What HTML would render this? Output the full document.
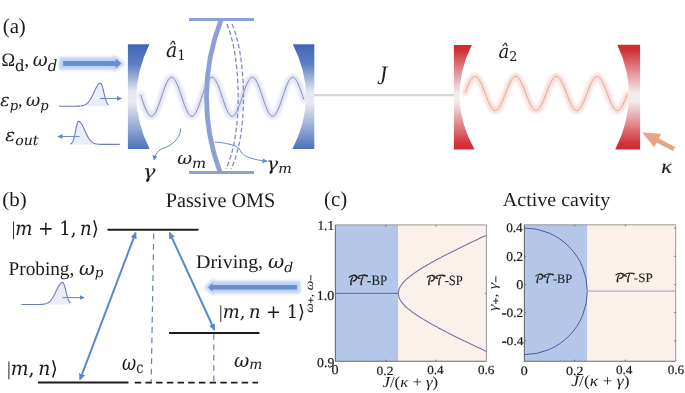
<!DOCTYPE html>
<html><head><meta charset="utf-8"><title>PT-symmetric optomechanics figure</title>
<style>html,body{margin:0;padding:0;background:#fff;}body{width:685px;height:393px;overflow:hidden;}svg{display:block;}</style>
</head><body>
<svg width="685" height="393" viewBox="0 0 685 393" text-rendering="geometricPrecision">
<defs>
<linearGradient id="gb" x1="0" y1="0" x2="0" y2="1">
 <stop offset="0" stop-color="#4065b4"/><stop offset="0.2" stop-color="#5f80c4"/>
 <stop offset="0.45" stop-color="#e4e7f0"/><stop offset="0.55" stop-color="#ebebf0"/><stop offset="0.8" stop-color="#93a8d6"/><stop offset="1" stop-color="#4d71ba"/>
</linearGradient>
<linearGradient id="gr" x1="0" y1="0" x2="0" y2="1">
 <stop offset="0" stop-color="#d02a2e"/><stop offset="0.06" stop-color="#d3333a"/>
 <stop offset="0.46" stop-color="#f2eded"/><stop offset="0.54" stop-color="#f2eded"/><stop offset="0.94" stop-color="#d3333a"/><stop offset="1" stop-color="#d02a2e"/>
</linearGradient>
<filter id="blur2" x="-20%" y="-50%" width="140%" height="200%"><feGaussianBlur stdDeviation="1.6"/></filter>
<filter id="blur1" x="-20%" y="-50%" width="140%" height="200%"><feGaussianBlur stdDeviation="1.1"/></filter>
<marker id="ah" viewBox="0 0 10 10" refX="9" refY="5" markerWidth="6.5" markerHeight="6.5" orient="auto-start-reverse" markerUnits="userSpaceOnUse"><path d="M0,0 L10,5 L0,10 z" fill="#5b87cc"/></marker>
<marker id="ahs" viewBox="0 0 10 10" refX="9" refY="5" markerWidth="5" markerHeight="5" orient="auto-start-reverse" markerUnits="userSpaceOnUse"><path d="M0,0 L10,5 L0,10 z" fill="#5b87cc"/></marker>
</defs>
<rect width="685" height="393" fill="#fff"/>
<line x1="313" y1="95.2" x2="455" y2="95.2" stroke="#d6d6d6" stroke-width="2.2"/>
<path d="M140.70,94.99 L141.20,96.50 L141.70,98.01 L142.20,99.51 L142.70,100.99 L143.20,102.45 L143.70,103.87 L144.20,105.26 L144.70,106.59 L145.20,107.86 L145.70,109.06 L146.20,110.19 L146.70,111.24 L147.20,112.21 L147.70,113.08 L148.20,113.85 L148.70,114.51 L149.20,115.08 L149.70,115.53 L150.20,115.86 L150.70,116.09 L151.20,116.19 L151.70,116.18 L152.20,116.05 L152.70,115.80 L153.20,115.44 L153.70,114.97 L154.20,114.39 L154.70,113.70 L155.20,112.91 L155.70,112.02 L156.20,111.04 L156.70,109.97 L157.20,108.83 L157.70,107.61 L158.20,106.33 L158.70,104.98 L159.20,103.59 L159.70,102.16 L160.20,100.70 L160.70,99.21 L161.20,97.70 L161.70,96.20 L162.20,94.69 L162.70,93.20 L163.20,91.73 L163.70,90.29 L164.20,88.89 L164.70,87.54 L165.20,86.24 L165.70,85.01 L166.20,83.85 L166.70,82.77 L167.20,81.77 L167.70,80.86 L168.20,80.05 L168.70,79.34 L169.20,78.74 L169.70,78.24 L170.20,77.86 L170.70,77.59 L171.20,77.44 L171.70,77.40 L172.20,77.48 L172.70,77.68 L173.20,78.00 L173.70,78.43 L174.20,78.96 L174.70,79.61 L175.20,80.36 L175.70,81.21 L176.20,82.16 L176.70,83.19 L177.20,84.30 L177.70,85.49 L178.20,86.75 L178.70,88.07 L179.20,89.45 L179.70,90.86 L180.20,92.32 L180.70,93.79 L181.20,95.29 L181.70,96.80 L182.20,98.31 L182.70,99.81 L183.20,101.28 L183.70,102.74 L184.20,104.15 L184.70,105.53 L185.20,106.85 L185.70,108.11 L186.20,109.30 L186.70,110.41 L187.20,111.44 L187.70,112.39 L188.20,113.24 L188.70,113.99 L189.20,114.64 L189.70,115.17 L190.20,115.60 L190.70,115.92 L191.20,116.12 L191.70,116.20 L192.20,116.16 L192.70,116.01 L193.20,115.74 L193.70,115.36 L194.20,114.86 L194.70,114.26 L195.20,113.55 L195.70,112.74 L196.20,111.83 L196.70,110.83 L197.20,109.75 L197.70,108.59 L198.20,107.36 L198.70,106.06 L199.20,104.71 L199.70,103.31 L200.20,101.87 L200.70,100.40 L201.20,98.91 L201.70,97.40 L202.20,95.90 L202.70,94.39 L203.20,92.90 L203.70,91.44 L204.20,90.01 L204.70,88.62 L205.20,87.27 L205.70,85.99 L206.20,84.77 L206.70,83.63 L207.20,82.56 L207.70,81.58 L208.20,80.69 L208.70,79.90 L209.20,79.21 L209.70,78.63 L210.20,78.16 L210.70,77.80 L211.20,77.55 L211.70,77.42 L212.20,77.41 L212.70,77.51 L213.20,77.74 L213.70,78.07 L214.20,78.52 L214.70,79.09 L215.20,79.75 L215.70,80.52 L216.20,81.39 L216.70,82.36 L217.20,83.41 L217.70,84.54 L218.20,85.74 L218.70,87.01 L219.20,88.34 L219.70,89.73 L220.20,91.15 L220.70,92.61 L221.20,94.09 L221.70,95.59 L222.20,97.10 L222.70,98.61 L223.20,100.10 L223.70,101.58 L224.20,103.02 L224.70,104.43 L225.20,105.80 L225.70,107.10 L226.20,108.35 L226.70,109.53 L227.20,110.62 L227.70,111.64 L228.20,112.57 L228.70,113.40 L229.20,114.13 L229.70,114.75 L230.20,115.27 L230.70,115.67 L231.20,115.97 L231.70,116.14 L232.20,116.20 L232.70,116.14 L233.20,115.97 L233.70,115.67 L234.20,115.27 L234.70,114.75 L235.20,114.13 L235.70,113.40 L236.20,112.57 L236.70,111.64 L237.20,110.62 L237.70,109.53 L238.20,108.35 L238.70,107.10 L239.20,105.80 L239.70,104.43 L240.20,103.02 L240.70,101.58 L241.20,100.10 L241.70,98.61 L242.20,97.10 L242.70,95.59 L243.20,94.09 L243.70,92.61 L244.20,91.15 L244.70,89.73 L245.20,88.34 L245.70,87.01 L246.20,85.74 L246.70,84.54 L247.20,83.41 L247.70,82.36 L248.20,81.39 L248.70,80.52 L249.20,79.75 L249.70,79.09 L250.20,78.52 L250.70,78.07 L251.20,77.74 L251.70,77.51 L252.20,77.41 L252.70,77.42 L253.20,77.55 L253.70,77.80 L254.20,78.16 L254.70,78.63 L255.20,79.21 L255.70,79.90 L256.20,80.69 L256.70,81.58 L257.20,82.56 L257.70,83.63 L258.20,84.77 L258.70,85.99 L259.20,87.27 L259.70,88.62 L260.20,90.01 L260.70,91.44 L261.20,92.90 L261.70,94.39 L262.20,95.90 L262.70,97.40 L263.20,98.91 L263.70,100.40 L264.20,101.87 L264.70,103.31 L265.20,104.71 L265.70,106.06 L266.20,107.36 L266.70,108.59 L267.20,109.75 L267.70,110.83 L268.20,111.83 L268.70,112.74 L269.20,113.55 L269.70,114.26 L270.20,114.86 L270.70,115.36 L271.20,115.74 L271.70,116.01 L272.20,116.16 L272.70,116.20 L273.20,116.12 L273.70,115.92 L274.20,115.60 L274.70,115.17 L275.20,114.64 L275.70,113.99 L276.20,113.24 L276.70,112.39 L277.20,111.44 L277.70,110.41 L278.20,109.30 L278.70,108.11 L279.20,106.85 L279.70,105.53 L280.20,104.15 L280.70,102.74 L281.20,101.28 L281.70,99.81 L282.20,98.31 L282.70,96.80 L283.20,95.29 L283.70,93.79 L284.20,92.32 L284.70,90.86 L285.20,89.45 L285.70,88.07 L286.20,86.75 L286.70,85.49 L287.20,84.30 L287.70,83.19 L288.20,82.16 L288.70,81.21 L289.20,80.36 L289.70,79.61 L290.20,78.96 L290.70,78.43 L291.20,78.00 L291.70,77.68 L292.20,77.48 L292.70,77.40 L293.20,77.44 L293.70,77.59 L294.20,77.86 L294.70,78.24 L295.20,78.74 L295.70,79.34 L296.20,80.05 L296.70,80.86 L297.20,81.77 L297.70,82.77 L298.20,83.85 L298.70,85.01 L299.20,86.24 L299.70,87.54 L300.20,88.89 L300.70,90.29 L301.20,91.73 L301.70,93.20 L302.20,94.69 L302.70,96.20 L303.20,97.70 L303.70,99.21" fill="none" stroke="#e2e6f6" stroke-width="7" stroke-linecap="round" filter="url(#blur1)"/>
<path d="M140.70,94.99 L141.20,96.50 L141.70,98.01 L142.20,99.51 L142.70,100.99 L143.20,102.45 L143.70,103.87 L144.20,105.26 L144.70,106.59 L145.20,107.86 L145.70,109.06 L146.20,110.19 L146.70,111.24 L147.20,112.21 L147.70,113.08 L148.20,113.85 L148.70,114.51 L149.20,115.08 L149.70,115.53 L150.20,115.86 L150.70,116.09 L151.20,116.19 L151.70,116.18 L152.20,116.05 L152.70,115.80 L153.20,115.44 L153.70,114.97 L154.20,114.39 L154.70,113.70 L155.20,112.91 L155.70,112.02 L156.20,111.04 L156.70,109.97 L157.20,108.83 L157.70,107.61 L158.20,106.33 L158.70,104.98 L159.20,103.59 L159.70,102.16 L160.20,100.70 L160.70,99.21 L161.20,97.70 L161.70,96.20 L162.20,94.69 L162.70,93.20 L163.20,91.73 L163.70,90.29 L164.20,88.89 L164.70,87.54 L165.20,86.24 L165.70,85.01 L166.20,83.85 L166.70,82.77 L167.20,81.77 L167.70,80.86 L168.20,80.05 L168.70,79.34 L169.20,78.74 L169.70,78.24 L170.20,77.86 L170.70,77.59 L171.20,77.44 L171.70,77.40 L172.20,77.48 L172.70,77.68 L173.20,78.00 L173.70,78.43 L174.20,78.96 L174.70,79.61 L175.20,80.36 L175.70,81.21 L176.20,82.16 L176.70,83.19 L177.20,84.30 L177.70,85.49 L178.20,86.75 L178.70,88.07 L179.20,89.45 L179.70,90.86 L180.20,92.32 L180.70,93.79 L181.20,95.29 L181.70,96.80 L182.20,98.31 L182.70,99.81 L183.20,101.28 L183.70,102.74 L184.20,104.15 L184.70,105.53 L185.20,106.85 L185.70,108.11 L186.20,109.30 L186.70,110.41 L187.20,111.44 L187.70,112.39 L188.20,113.24 L188.70,113.99 L189.20,114.64 L189.70,115.17 L190.20,115.60 L190.70,115.92 L191.20,116.12 L191.70,116.20 L192.20,116.16 L192.70,116.01 L193.20,115.74 L193.70,115.36 L194.20,114.86 L194.70,114.26 L195.20,113.55 L195.70,112.74 L196.20,111.83 L196.70,110.83 L197.20,109.75 L197.70,108.59 L198.20,107.36 L198.70,106.06 L199.20,104.71 L199.70,103.31 L200.20,101.87 L200.70,100.40 L201.20,98.91 L201.70,97.40 L202.20,95.90 L202.70,94.39 L203.20,92.90 L203.70,91.44 L204.20,90.01 L204.70,88.62 L205.20,87.27 L205.70,85.99 L206.20,84.77 L206.70,83.63 L207.20,82.56 L207.70,81.58 L208.20,80.69 L208.70,79.90 L209.20,79.21 L209.70,78.63 L210.20,78.16 L210.70,77.80 L211.20,77.55 L211.70,77.42 L212.20,77.41 L212.70,77.51 L213.20,77.74 L213.70,78.07 L214.20,78.52 L214.70,79.09 L215.20,79.75 L215.70,80.52 L216.20,81.39 L216.70,82.36 L217.20,83.41 L217.70,84.54 L218.20,85.74 L218.70,87.01 L219.20,88.34 L219.70,89.73 L220.20,91.15 L220.70,92.61 L221.20,94.09 L221.70,95.59 L222.20,97.10 L222.70,98.61 L223.20,100.10 L223.70,101.58 L224.20,103.02 L224.70,104.43 L225.20,105.80 L225.70,107.10 L226.20,108.35 L226.70,109.53 L227.20,110.62 L227.70,111.64 L228.20,112.57 L228.70,113.40 L229.20,114.13 L229.70,114.75 L230.20,115.27 L230.70,115.67 L231.20,115.97 L231.70,116.14 L232.20,116.20 L232.70,116.14 L233.20,115.97 L233.70,115.67 L234.20,115.27 L234.70,114.75 L235.20,114.13 L235.70,113.40 L236.20,112.57 L236.70,111.64 L237.20,110.62 L237.70,109.53 L238.20,108.35 L238.70,107.10 L239.20,105.80 L239.70,104.43 L240.20,103.02 L240.70,101.58 L241.20,100.10 L241.70,98.61 L242.20,97.10 L242.70,95.59 L243.20,94.09 L243.70,92.61 L244.20,91.15 L244.70,89.73 L245.20,88.34 L245.70,87.01 L246.20,85.74 L246.70,84.54 L247.20,83.41 L247.70,82.36 L248.20,81.39 L248.70,80.52 L249.20,79.75 L249.70,79.09 L250.20,78.52 L250.70,78.07 L251.20,77.74 L251.70,77.51 L252.20,77.41 L252.70,77.42 L253.20,77.55 L253.70,77.80 L254.20,78.16 L254.70,78.63 L255.20,79.21 L255.70,79.90 L256.20,80.69 L256.70,81.58 L257.20,82.56 L257.70,83.63 L258.20,84.77 L258.70,85.99 L259.20,87.27 L259.70,88.62 L260.20,90.01 L260.70,91.44 L261.20,92.90 L261.70,94.39 L262.20,95.90 L262.70,97.40 L263.20,98.91 L263.70,100.40 L264.20,101.87 L264.70,103.31 L265.20,104.71 L265.70,106.06 L266.20,107.36 L266.70,108.59 L267.20,109.75 L267.70,110.83 L268.20,111.83 L268.70,112.74 L269.20,113.55 L269.70,114.26 L270.20,114.86 L270.70,115.36 L271.20,115.74 L271.70,116.01 L272.20,116.16 L272.70,116.20 L273.20,116.12 L273.70,115.92 L274.20,115.60 L274.70,115.17 L275.20,114.64 L275.70,113.99 L276.20,113.24 L276.70,112.39 L277.20,111.44 L277.70,110.41 L278.20,109.30 L278.70,108.11 L279.20,106.85 L279.70,105.53 L280.20,104.15 L280.70,102.74 L281.20,101.28 L281.70,99.81 L282.20,98.31 L282.70,96.80 L283.20,95.29 L283.70,93.79 L284.20,92.32 L284.70,90.86 L285.20,89.45 L285.70,88.07 L286.20,86.75 L286.70,85.49 L287.20,84.30 L287.70,83.19 L288.20,82.16 L288.70,81.21 L289.20,80.36 L289.70,79.61 L290.20,78.96 L290.70,78.43 L291.20,78.00 L291.70,77.68 L292.20,77.48 L292.70,77.40 L293.20,77.44 L293.70,77.59 L294.20,77.86 L294.70,78.24 L295.20,78.74 L295.70,79.34 L296.20,80.05 L296.70,80.86 L297.20,81.77 L297.70,82.77 L298.20,83.85 L298.70,85.01 L299.20,86.24 L299.70,87.54 L300.20,88.89 L300.70,90.29 L301.20,91.73 L301.70,93.20 L302.20,94.69 L302.70,96.20 L303.20,97.70 L303.70,99.21" fill="none" stroke="#7b7d9f" stroke-width="0.9"/>
<path d="M465.30,92.19 L465.80,90.89 L466.30,89.60 L466.80,88.33 L467.30,87.10 L467.80,85.91 L468.30,84.75 L468.80,83.66 L469.30,82.62 L469.80,81.64 L470.30,80.74 L470.80,79.91 L471.30,79.16 L471.80,78.50 L472.30,77.93 L472.80,77.45 L473.30,77.07 L473.80,76.78 L474.30,76.59 L474.80,76.51 L475.30,76.52 L475.80,76.64 L476.30,76.85 L476.80,77.17 L477.30,77.58 L477.80,78.09 L478.30,78.69 L478.80,79.38 L479.30,80.15 L479.80,81.00 L480.30,81.93 L480.80,82.92 L481.30,83.98 L481.80,85.09 L482.30,86.26 L482.80,87.47 L483.30,88.71 L483.80,89.98 L484.30,91.28 L484.80,92.58 L485.30,93.89 L485.80,95.20 L486.30,96.50 L486.80,97.78 L487.30,99.04 L487.80,100.26 L488.30,101.44 L488.80,102.58 L489.30,103.66 L489.80,104.68 L490.30,105.64 L490.80,106.52 L491.30,107.32 L491.80,108.04 L492.30,108.68 L492.80,109.22 L493.30,109.68 L493.80,110.03 L494.30,110.29 L494.80,110.44 L495.30,110.50 L495.80,110.45 L496.30,110.31 L496.80,110.06 L497.30,109.72 L497.80,109.27 L498.30,108.74 L498.80,108.11 L499.30,107.40 L499.80,106.60 L500.30,105.73 L500.80,104.78 L501.30,103.77 L501.80,102.69 L502.30,101.56 L502.80,100.38 L503.30,99.16 L503.80,97.91 L504.30,96.63 L504.80,95.33 L505.30,94.02 L505.80,92.71 L506.30,91.41 L506.80,90.11 L507.30,88.84 L507.80,87.59 L508.30,86.38 L508.80,85.21 L509.30,84.09 L509.80,83.03 L510.30,82.02 L510.80,81.09 L511.30,80.23 L511.80,79.45 L512.30,78.76 L512.80,78.15 L513.30,77.63 L513.80,77.21 L514.30,76.88 L514.80,76.65 L515.30,76.53 L515.80,76.50 L516.30,76.58 L516.80,76.76 L517.30,77.03 L517.80,77.41 L518.30,77.88 L518.80,78.44 L519.30,79.09 L519.80,79.83 L520.30,80.65 L520.80,81.55 L521.30,82.52 L521.80,83.55 L522.30,84.64 L522.80,85.79 L523.30,86.98 L523.80,88.21 L524.30,89.47 L524.80,90.76 L525.30,92.06 L525.80,93.37 L526.30,94.68 L526.80,95.98 L527.30,97.27 L527.80,98.54 L528.30,99.78 L528.80,100.98 L529.30,102.13 L529.80,103.24 L530.30,104.28 L530.80,105.26 L531.30,106.17 L531.80,107.01 L532.30,107.77 L532.80,108.44 L533.30,109.02 L533.80,109.51 L534.30,109.90 L534.80,110.20 L535.30,110.39 L535.80,110.49 L536.30,110.48 L536.80,110.38 L537.30,110.17 L537.80,109.87 L538.30,109.46 L538.80,108.96 L539.30,108.37 L539.80,107.69 L540.30,106.93 L540.80,106.09 L541.30,105.17 L541.80,104.18 L542.30,103.13 L542.80,102.02 L543.30,100.86 L543.80,99.66 L544.30,98.42 L544.80,97.15 L545.30,95.85 L545.80,94.55 L546.30,93.24 L546.80,91.93 L547.30,90.63 L547.80,89.34 L548.30,88.08 L548.80,86.86 L549.30,85.67 L549.80,84.53 L550.30,83.44 L550.80,82.42 L551.30,81.46 L551.80,80.57 L552.30,79.75 L552.80,79.02 L553.30,78.38 L553.80,77.83 L554.30,77.36 L554.80,77.00 L555.30,76.73 L555.80,76.57 L556.30,76.50 L556.80,76.54 L557.30,76.67 L557.80,76.91 L558.30,77.25 L558.80,77.68 L559.30,78.20 L559.80,78.82 L560.30,79.53 L560.80,80.31 L561.30,81.18 L561.80,82.12 L562.30,83.13 L562.80,84.20 L563.30,85.32 L563.80,86.50 L564.30,87.71 L564.80,88.96 L565.30,90.24 L565.80,91.54 L566.30,92.84 L566.80,94.16 L567.30,95.46 L567.80,96.76 L568.30,98.04 L568.80,99.29 L569.30,100.50 L569.80,101.68 L570.30,102.80 L570.80,103.87 L571.30,104.88 L571.80,105.82 L572.30,106.69 L572.80,107.47 L573.30,108.18 L573.80,108.80 L574.30,109.32 L574.80,109.75 L575.30,110.09 L575.80,110.33 L576.30,110.46 L576.80,110.50 L577.30,110.43 L577.80,110.27 L578.30,110.00 L578.80,109.64 L579.30,109.17 L579.80,108.62 L580.30,107.98 L580.80,107.25 L581.30,106.43 L581.80,105.54 L582.30,104.58 L582.80,103.56 L583.30,102.47 L583.80,101.33 L584.30,100.14 L584.80,98.92 L585.30,97.66 L585.80,96.37 L586.30,95.07 L586.80,93.76 L587.30,92.45 L587.80,91.15 L588.30,89.85 L588.80,88.58 L589.30,87.34 L589.80,86.14 L590.30,84.98 L590.80,83.87 L591.30,82.82 L591.80,81.83 L592.30,80.91 L592.80,80.07 L593.30,79.31 L593.80,78.63 L594.30,78.04 L594.80,77.54 L595.30,77.13 L595.80,76.83 L596.30,76.62 L596.80,76.52 L597.30,76.51 L597.80,76.61 L598.30,76.80 L598.80,77.10 L599.30,77.49 L599.80,77.98 L600.30,78.56 L600.80,79.23 L601.30,79.99 L601.80,80.83 L602.30,81.74 L602.80,82.72 L603.30,83.76 L603.80,84.87 L604.30,86.02 L604.80,87.22 L605.30,88.46 L605.80,89.73 L606.30,91.02 L606.80,92.32 L607.30,93.63 L607.80,94.94 L608.30,96.24 L608.80,97.53 L609.30,98.79 L609.80,100.02 L610.30,101.21 L610.80,102.36 L611.30,103.45 L611.80,104.48 L612.30,105.45 L612.80,106.35 L613.30,107.17 L613.80,107.91 L614.30,108.56 L614.80,109.12 L615.30,109.59 L615.80,109.97 L616.30,110.24 L616.80,110.42 L617.30,110.50 L617.80,110.47 L618.30,110.35 L618.80,110.12 L619.30,109.79 L619.80,109.37 L620.30,108.85 L620.80,108.24 L621.30,107.55 L621.80,106.77 L622.30,105.91 L622.80,104.98 L623.30,103.97 L623.80,102.91 L624.30,101.79 L624.80,100.62 L625.30,99.41 L625.80,98.16 L626.30,96.89 L626.80,95.59 L627.30,94.29" fill="none" stroke="#fbe0da" stroke-width="7" stroke-linecap="round" filter="url(#blur1)"/>
<path d="M465.30,92.19 L465.80,90.89 L466.30,89.60 L466.80,88.33 L467.30,87.10 L467.80,85.91 L468.30,84.75 L468.80,83.66 L469.30,82.62 L469.80,81.64 L470.30,80.74 L470.80,79.91 L471.30,79.16 L471.80,78.50 L472.30,77.93 L472.80,77.45 L473.30,77.07 L473.80,76.78 L474.30,76.59 L474.80,76.51 L475.30,76.52 L475.80,76.64 L476.30,76.85 L476.80,77.17 L477.30,77.58 L477.80,78.09 L478.30,78.69 L478.80,79.38 L479.30,80.15 L479.80,81.00 L480.30,81.93 L480.80,82.92 L481.30,83.98 L481.80,85.09 L482.30,86.26 L482.80,87.47 L483.30,88.71 L483.80,89.98 L484.30,91.28 L484.80,92.58 L485.30,93.89 L485.80,95.20 L486.30,96.50 L486.80,97.78 L487.30,99.04 L487.80,100.26 L488.30,101.44 L488.80,102.58 L489.30,103.66 L489.80,104.68 L490.30,105.64 L490.80,106.52 L491.30,107.32 L491.80,108.04 L492.30,108.68 L492.80,109.22 L493.30,109.68 L493.80,110.03 L494.30,110.29 L494.80,110.44 L495.30,110.50 L495.80,110.45 L496.30,110.31 L496.80,110.06 L497.30,109.72 L497.80,109.27 L498.30,108.74 L498.80,108.11 L499.30,107.40 L499.80,106.60 L500.30,105.73 L500.80,104.78 L501.30,103.77 L501.80,102.69 L502.30,101.56 L502.80,100.38 L503.30,99.16 L503.80,97.91 L504.30,96.63 L504.80,95.33 L505.30,94.02 L505.80,92.71 L506.30,91.41 L506.80,90.11 L507.30,88.84 L507.80,87.59 L508.30,86.38 L508.80,85.21 L509.30,84.09 L509.80,83.03 L510.30,82.02 L510.80,81.09 L511.30,80.23 L511.80,79.45 L512.30,78.76 L512.80,78.15 L513.30,77.63 L513.80,77.21 L514.30,76.88 L514.80,76.65 L515.30,76.53 L515.80,76.50 L516.30,76.58 L516.80,76.76 L517.30,77.03 L517.80,77.41 L518.30,77.88 L518.80,78.44 L519.30,79.09 L519.80,79.83 L520.30,80.65 L520.80,81.55 L521.30,82.52 L521.80,83.55 L522.30,84.64 L522.80,85.79 L523.30,86.98 L523.80,88.21 L524.30,89.47 L524.80,90.76 L525.30,92.06 L525.80,93.37 L526.30,94.68 L526.80,95.98 L527.30,97.27 L527.80,98.54 L528.30,99.78 L528.80,100.98 L529.30,102.13 L529.80,103.24 L530.30,104.28 L530.80,105.26 L531.30,106.17 L531.80,107.01 L532.30,107.77 L532.80,108.44 L533.30,109.02 L533.80,109.51 L534.30,109.90 L534.80,110.20 L535.30,110.39 L535.80,110.49 L536.30,110.48 L536.80,110.38 L537.30,110.17 L537.80,109.87 L538.30,109.46 L538.80,108.96 L539.30,108.37 L539.80,107.69 L540.30,106.93 L540.80,106.09 L541.30,105.17 L541.80,104.18 L542.30,103.13 L542.80,102.02 L543.30,100.86 L543.80,99.66 L544.30,98.42 L544.80,97.15 L545.30,95.85 L545.80,94.55 L546.30,93.24 L546.80,91.93 L547.30,90.63 L547.80,89.34 L548.30,88.08 L548.80,86.86 L549.30,85.67 L549.80,84.53 L550.30,83.44 L550.80,82.42 L551.30,81.46 L551.80,80.57 L552.30,79.75 L552.80,79.02 L553.30,78.38 L553.80,77.83 L554.30,77.36 L554.80,77.00 L555.30,76.73 L555.80,76.57 L556.30,76.50 L556.80,76.54 L557.30,76.67 L557.80,76.91 L558.30,77.25 L558.80,77.68 L559.30,78.20 L559.80,78.82 L560.30,79.53 L560.80,80.31 L561.30,81.18 L561.80,82.12 L562.30,83.13 L562.80,84.20 L563.30,85.32 L563.80,86.50 L564.30,87.71 L564.80,88.96 L565.30,90.24 L565.80,91.54 L566.30,92.84 L566.80,94.16 L567.30,95.46 L567.80,96.76 L568.30,98.04 L568.80,99.29 L569.30,100.50 L569.80,101.68 L570.30,102.80 L570.80,103.87 L571.30,104.88 L571.80,105.82 L572.30,106.69 L572.80,107.47 L573.30,108.18 L573.80,108.80 L574.30,109.32 L574.80,109.75 L575.30,110.09 L575.80,110.33 L576.30,110.46 L576.80,110.50 L577.30,110.43 L577.80,110.27 L578.30,110.00 L578.80,109.64 L579.30,109.17 L579.80,108.62 L580.30,107.98 L580.80,107.25 L581.30,106.43 L581.80,105.54 L582.30,104.58 L582.80,103.56 L583.30,102.47 L583.80,101.33 L584.30,100.14 L584.80,98.92 L585.30,97.66 L585.80,96.37 L586.30,95.07 L586.80,93.76 L587.30,92.45 L587.80,91.15 L588.30,89.85 L588.80,88.58 L589.30,87.34 L589.80,86.14 L590.30,84.98 L590.80,83.87 L591.30,82.82 L591.80,81.83 L592.30,80.91 L592.80,80.07 L593.30,79.31 L593.80,78.63 L594.30,78.04 L594.80,77.54 L595.30,77.13 L595.80,76.83 L596.30,76.62 L596.80,76.52 L597.30,76.51 L597.80,76.61 L598.30,76.80 L598.80,77.10 L599.30,77.49 L599.80,77.98 L600.30,78.56 L600.80,79.23 L601.30,79.99 L601.80,80.83 L602.30,81.74 L602.80,82.72 L603.30,83.76 L603.80,84.87 L604.30,86.02 L604.80,87.22 L605.30,88.46 L605.80,89.73 L606.30,91.02 L606.80,92.32 L607.30,93.63 L607.80,94.94 L608.30,96.24 L608.80,97.53 L609.30,98.79 L609.80,100.02 L610.30,101.21 L610.80,102.36 L611.30,103.45 L611.80,104.48 L612.30,105.45 L612.80,106.35 L613.30,107.17 L613.80,107.91 L614.30,108.56 L614.80,109.12 L615.30,109.59 L615.80,109.97 L616.30,110.24 L616.80,110.42 L617.30,110.50 L617.80,110.47 L618.30,110.35 L618.80,110.12 L619.30,109.79 L619.80,109.37 L620.30,108.85 L620.80,108.24 L621.30,107.55 L621.80,106.77 L622.30,105.91 L622.80,104.98 L623.30,103.97 L623.80,102.91 L624.30,101.79 L624.80,100.62 L625.30,99.41 L625.80,98.16 L626.30,96.89 L626.80,95.59 L627.30,94.29" fill="none" stroke="#d49f9a" stroke-width="0.9"/>
<path d="M127.9,44.3 L149.5,44.3 Q123.45,96.65 149.6,149 L127.9,149 Z" fill="url(#gb)"/>
<path d="M314.3,44.3 L292.8,44.3 Q319.40,96.70 292.4,149.1 L314.3,149.1 Z" fill="url(#gb)"/>
<path d="M453.9,44.9 L471.8,44.9 Q445.80,97.25 474.6,149.6 L453.9,149.6 Z" fill="url(#gr)"/>
<path d="M640.1,44.7 L617.3,44.7 Q641.75,97.10 615.2,149.5 L640.1,149.5 Z" fill="url(#gr)"/>
<line x1="189" y1="19.6" x2="254" y2="19.6" stroke="#8c9fd6" stroke-width="3"/>
<line x1="189" y1="172.6" x2="254" y2="172.6" stroke="#8c9fd6" stroke-width="3"/>
<path d="M221,20 A213,213 0 0 0 220,172" fill="none" stroke="#8c9fd6" stroke-width="4.8"/>
<path d="M226.8,24 C240.7,54.8 243.4,132.6 226,169" fill="none" stroke="#848dbd" stroke-width="1.3" stroke-dasharray="4.6,2.4"/>
<path d="M232,24 C246,54.8 248.9,132.6 231,169" fill="none" stroke="#848dbd" stroke-width="1.3" stroke-dasharray="4.6,2.4"/>
<g filter="url(#blur2)" opacity="1"><path d="M59,57.3 L113.5,57.3 L113.5,54.8 L125.5,63.5 L113.5,72.2 L113.5,69.7 L59,69.7 Z" fill="#c0d0ef"/></g>
<path d="M63.2,60.95 L115.8,60.95 L115.8,58.6 L121.4,63.5 L115.8,68.4 L115.8,66.05 L63.2,66.05 Z" fill="#6690d0"/>
<path d="M86.00,104.29 L86.50,103.94 L87.00,103.54 L87.50,103.09 L88.00,102.58 L88.50,102.02 L89.00,101.39 L89.50,100.71 L90.00,99.96 L90.50,99.16 L91.00,98.30 L91.50,97.38 L92.00,96.42 L92.50,95.42 L93.00,94.38 L93.50,93.32 L94.00,92.25 L94.50,91.18 L95.00,90.12 L95.50,89.09 L96.00,88.10 L96.50,87.17 L97.00,86.30 L97.50,85.52 L98.00,84.84 L98.50,84.26 L99.00,83.80 L99.50,83.47 L100.00,83.27 L100.50,83.20 L101.00,83.46 L101.50,84.23 L102.00,85.46 L102.50,87.06 L103.00,88.94 L103.50,90.99 L104.00,93.09 L104.50,95.17 L105.00,97.12 L105.50,98.90 L106.00,100.46 L106.50,101.80 L107.00,102.89 L107.50,103.78 L108.00,104.46 L108.50,104.98 L108.5,106.2 L86.0,106.2 Z" fill="#e9eef9"/>
<path d="M59.00,106.20 L59.50,106.20 L60.00,106.20 L60.50,106.20 L61.00,106.20 L61.50,106.20 L62.00,106.20 L62.50,106.20 L63.00,106.20 L63.50,106.20 L64.00,106.20 L64.50,106.20 L65.00,106.20 L65.50,106.20 L66.00,106.20 L66.50,106.20 L67.00,106.20 L67.50,106.20 L68.00,106.20 L68.50,106.20 L69.00,106.20 L69.50,106.20 L70.00,106.20 L70.50,106.20 L71.00,106.20 L71.50,106.20 L72.00,106.20 L72.50,106.20 L73.00,106.20 L73.50,106.20 L74.00,106.19 L74.50,106.19 L75.00,106.19 L75.50,106.19 L76.00,106.18 L76.50,106.17 L77.00,106.17 L77.50,106.16 L78.00,106.14 L78.50,106.13 L79.00,106.10 L79.50,106.08 L80.00,106.04 L80.50,106.00 L81.00,105.94 L81.50,105.88 L82.00,105.80 L82.50,105.70 L83.00,105.59 L83.50,105.45 L84.00,105.28 L84.50,105.09 L85.00,104.86 L85.50,104.60 L86.00,104.29 L86.50,103.94 L87.00,103.54 L87.50,103.09 L88.00,102.58 L88.50,102.02 L89.00,101.39 L89.50,100.71 L90.00,99.96 L90.50,99.16 L91.00,98.30 L91.50,97.38 L92.00,96.42 L92.50,95.42 L93.00,94.38 L93.50,93.32 L94.00,92.25 L94.50,91.18 L95.00,90.12 L95.50,89.09 L96.00,88.10 L96.50,87.17 L97.00,86.30 L97.50,85.52 L98.00,84.84 L98.50,84.26 L99.00,83.80 L99.50,83.47 L100.00,83.27 L100.50,83.20 L101.00,83.46 L101.50,84.23 L102.00,85.46 L102.50,87.06 L103.00,88.94 L103.50,90.99 L104.00,93.09 L104.50,95.17 L105.00,97.12 L105.50,98.90 L106.00,100.46 L106.50,101.80 L107.00,102.89 L107.50,103.78 L108.00,104.46 L108.50,104.98" fill="none" stroke="#6d7cb4" stroke-width="1.1" stroke-linejoin="round"/>
<line x1="100" y1="98.5" x2="121.4" y2="98.5" stroke="#6d8cc8" stroke-width="1.1" marker-end="url(#ahs)"/>
<path d="M70.30,144.08 L70.80,143.87 L71.30,143.55 L71.80,143.08 L72.30,142.41 L72.80,141.49 L73.30,140.28 L73.80,138.75 L74.30,136.90 L74.80,134.75 L75.30,132.38 L75.80,129.89 L76.30,127.43 L76.80,125.19 L77.30,123.33 L77.80,122.01 L78.30,121.36 L78.80,121.33 L79.30,121.49 L79.80,121.79 L80.30,122.22 L80.80,122.79 L81.30,123.47 L81.80,124.26 L82.30,125.14 L82.80,126.10 L83.30,127.12 L83.80,128.18 L84.30,129.28 L84.80,130.39 L85.30,131.50 L85.80,132.60 L86.30,133.67 L86.80,134.70 L87.30,135.69 L87.80,136.63 L88.30,137.51 L88.80,138.33 L89.30,139.09 L89.80,139.78 L90.30,140.40 L90.80,140.97 L91.30,141.47 L91.80,141.91 L92.30,142.30 L92.80,142.64 L93.30,142.94 L93.80,143.19 L93.8,144.4 L70.3,144.4 Z" fill="#e9eef9"/>
<path d="M70.30,144.08 L70.80,143.87 L71.30,143.55 L71.80,143.08 L72.30,142.41 L72.80,141.49 L73.30,140.28 L73.80,138.75 L74.30,136.90 L74.80,134.75 L75.30,132.38 L75.80,129.89 L76.30,127.43 L76.80,125.19 L77.30,123.33 L77.80,122.01 L78.30,121.36 L78.80,121.33 L79.30,121.49 L79.80,121.79 L80.30,122.22 L80.80,122.79 L81.30,123.47 L81.80,124.26 L82.30,125.14 L82.80,126.10 L83.30,127.12 L83.80,128.18 L84.30,129.28 L84.80,130.39 L85.30,131.50 L85.80,132.60 L86.30,133.67 L86.80,134.70 L87.30,135.69 L87.80,136.63 L88.30,137.51 L88.80,138.33 L89.30,139.09 L89.80,139.78 L90.30,140.40 L90.80,140.97 L91.30,141.47 L91.80,141.91 L92.30,142.30 L92.80,142.64 L93.30,142.94 L93.80,143.19 L94.30,143.41 L94.80,143.59 L95.30,143.74 L95.80,143.87 L96.30,143.97 L96.80,144.06 L97.30,144.13 L97.80,144.19 L98.30,144.23 L98.80,144.27 L99.30,144.30 L99.80,144.32 L100.30,144.34 L100.80,144.36 L101.30,144.37 L101.80,144.38 L102.30,144.38 L102.80,144.39 L103.30,144.39 L103.80,144.39 L104.30,144.39 L104.80,144.40 L105.30,144.40 L105.80,144.40 L106.30,144.40 L106.80,144.40 L107.30,144.40 L107.80,144.40 L108.30,144.40 L108.80,144.40 L109.30,144.40 L109.80,144.40 L110.30,144.40 L110.80,144.40 L111.30,144.40 L111.80,144.40 L112.30,144.40 L112.80,144.40 L113.30,144.40 L113.80,144.40 L114.30,144.40 L114.80,144.40 L115.30,144.40 L115.80,144.40 L116.30,144.40 L116.80,144.40 L117.30,144.40 L117.80,144.40 L118.30,144.40 L118.80,144.40 L119.30,144.40 L119.80,144.40" fill="none" stroke="#6d7cb4" stroke-width="1.1" stroke-linejoin="round"/>
<line x1="79.5" y1="136.5" x2="58" y2="136.5" stroke="#6d8cc8" stroke-width="1.1" marker-end="url(#ahs)"/>
<path d="M180.8,128.6 C180,140 170,146 164,148 C158,150 155,154 154.2,160" fill="none" stroke="#5b87cc" stroke-width="1" marker-end="url(#ahs)"/>
<path d="M214.9,142.1 C222,142.4 230,143.8 236,146.3 C240.2,148.3 240.2,151.6 242.6,153.9 C246.5,157.3 255,160 266.9,161.3" fill="none" stroke="#6a8bc6" stroke-width="1" marker-end="url(#ahs)"/>
<path d="M642.2,132.5 L661.1,133.86 L658.71,138.48 L675.06,146.96 L672.94,151.04 L656.59,142.56 L654.2,147.18 Z" fill="#e8a284"/>
<line x1="107.5" y1="229.8" x2="198.5" y2="229.8" stroke="#1c1c1c" stroke-width="2"/>
<line x1="169" y1="333" x2="259.5" y2="333" stroke="#1c1c1c" stroke-width="2"/>
<line x1="38" y1="382.6" x2="128.5" y2="382.6" stroke="#1c1c1c" stroke-width="2"/>
<line x1="134.7" y1="382.6" x2="258" y2="382.6" stroke="#1c1c1c" stroke-width="1.6" stroke-dasharray="6.5,4.2"/>
<line x1="153.7" y1="233.5" x2="151.2" y2="382" stroke="#5f82c0" stroke-width="1.2" stroke-dasharray="5.8,4.6"/>
<line x1="213.8" y1="334" x2="213.8" y2="382" stroke="#5f82c0" stroke-width="1.2" stroke-dasharray="5.8,4.6"/>
<line x1="80" y1="379.6" x2="135.7" y2="232.7" stroke="#5b87cc" stroke-width="2" marker-start="url(#ah)" marker-end="url(#ah)"/>
<line x1="169.6" y1="232.7" x2="214.5" y2="330" stroke="#5b87cc" stroke-width="2" marker-start="url(#ah)" marker-end="url(#ah)"/>
<g filter="url(#blur2)" opacity="1"><path d="M300.5,281.1 L214,281.1 L214,278.5 L204,287.3 L214,296.1 L214,293.5 L300.5,293.5 Z" fill="#c0d0ef"/></g>
<path d="M297,285 L212.6,285 L212.6,283 L208,287.3 L212.6,291.6 L212.6,289.6 L297,289.6 Z" fill="#6690d0"/>
<path d="M48.30,302.54 L48.80,302.19 L49.30,301.79 L49.80,301.34 L50.30,300.83 L50.80,300.27 L51.30,299.65 L51.80,298.97 L52.30,298.23 L52.80,297.44 L53.30,296.60 L53.80,295.70 L54.30,294.76 L54.80,293.79 L55.30,292.79 L55.80,291.77 L56.30,290.75 L56.80,289.73 L57.30,288.72 L57.80,287.75 L58.30,286.82 L58.80,285.96 L59.30,285.16 L59.80,284.45 L60.30,283.84 L60.80,283.33 L61.30,282.94 L61.80,282.67 L62.30,282.52 L62.80,282.54 L63.30,282.99 L63.80,283.91 L64.30,285.23 L64.80,286.88 L65.30,288.76 L65.80,290.75 L66.30,292.77 L66.80,294.71 L67.30,296.52 L67.80,298.14 L68.30,299.55 L68.80,300.73 L69.30,301.70 L69.80,302.46 L70.30,303.05 L70.3,304.5 L48.3,304.5 Z" fill="#e9eef9"/>
<path d="M21.30,304.50 L21.80,304.50 L22.30,304.50 L22.80,304.50 L23.30,304.50 L23.80,304.50 L24.30,304.50 L24.80,304.50 L25.30,304.50 L25.80,304.50 L26.30,304.50 L26.80,304.50 L27.30,304.50 L27.80,304.50 L28.30,304.50 L28.80,304.50 L29.30,304.50 L29.80,304.50 L30.30,304.50 L30.80,304.50 L31.30,304.50 L31.80,304.50 L32.30,304.50 L32.80,304.50 L33.30,304.50 L33.80,304.50 L34.30,304.50 L34.80,304.50 L35.30,304.50 L35.80,304.50 L36.30,304.49 L36.80,304.49 L37.30,304.49 L37.80,304.48 L38.30,304.48 L38.80,304.47 L39.30,304.46 L39.80,304.45 L40.30,304.44 L40.80,304.42 L41.30,304.40 L41.80,304.37 L42.30,304.33 L42.80,304.29 L43.30,304.23 L43.80,304.16 L44.30,304.08 L44.80,303.98 L45.30,303.86 L45.80,303.72 L46.30,303.55 L46.80,303.35 L47.30,303.12 L47.80,302.85 L48.30,302.54 L48.80,302.19 L49.30,301.79 L49.80,301.34 L50.30,300.83 L50.80,300.27 L51.30,299.65 L51.80,298.97 L52.30,298.23 L52.80,297.44 L53.30,296.60 L53.80,295.70 L54.30,294.76 L54.80,293.79 L55.30,292.79 L55.80,291.77 L56.30,290.75 L56.80,289.73 L57.30,288.72 L57.80,287.75 L58.30,286.82 L58.80,285.96 L59.30,285.16 L59.80,284.45 L60.30,283.84 L60.80,283.33 L61.30,282.94 L61.80,282.67 L62.30,282.52 L62.80,282.54 L63.30,282.99 L63.80,283.91 L64.30,285.23 L64.80,286.88 L65.30,288.76 L65.80,290.75 L66.30,292.77 L66.80,294.71 L67.30,296.52 L67.80,298.14 L68.30,299.55 L68.80,300.73 L69.30,301.70 L69.80,302.46 L70.30,303.05" fill="none" stroke="#6d7cb4" stroke-width="1.1" stroke-linejoin="round"/>
<line x1="62.6" y1="297.6" x2="84" y2="297.6" stroke="#6d8cc8" stroke-width="1.1" marker-end="url(#ahs)"/>
<rect x="335.4" y="224.9" width="62.90" height="136.30" fill="#b5c7e9"/>
<rect x="398.3" y="224.9" width="88.10" height="136.30" fill="#fbf0ea"/>
<rect x="524.4" y="224.8" width="62.90" height="136.40" fill="#b5c7e9"/>
<rect x="587.3" y="224.8" width="88.40" height="136.40" fill="#fbf0ea"/>
<line x1="335.4" y1="293.3" x2="398.3" y2="293.3" stroke="#4a5aa8" stroke-width="0.9"/>
<path d="M486.40,235.21 L485.90,235.45 L485.39,235.68 L484.89,235.91 L484.39,236.15 L483.88,236.38 L483.38,236.62 L482.88,236.86 L482.37,237.09 L481.87,237.33 L481.37,237.56 L480.86,237.80 L480.36,238.04 L479.86,238.27 L479.35,238.51 L478.85,238.75 L478.35,238.98 L477.84,239.22 L477.34,239.46 L476.84,239.70 L476.33,239.93 L475.83,240.17 L475.33,240.41 L474.82,240.65 L474.32,240.89 L473.82,241.13 L473.31,241.37 L472.81,241.60 L472.31,241.84 L471.80,242.08 L471.30,242.32 L470.80,242.56 L470.29,242.81 L469.79,243.05 L469.29,243.29 L468.78,243.53 L468.28,243.77 L467.78,244.01 L467.27,244.25 L466.77,244.50 L466.27,244.74 L465.76,244.98 L465.26,245.23 L464.76,245.47 L464.25,245.71 L463.75,245.96 L463.25,246.20 L462.74,246.45 L462.24,246.69 L461.74,246.94 L461.23,247.18 L460.73,247.43 L460.23,247.68 L459.72,247.92 L459.22,248.17 L458.72,248.42 L458.21,248.67 L457.71,248.91 L457.21,249.16 L456.70,249.41 L456.20,249.66 L455.70,249.91 L455.19,250.16 L454.69,250.41 L454.19,250.66 L453.68,250.91 L453.18,251.17 L452.68,251.42 L452.17,251.67 L451.67,251.92 L451.17,252.18 L450.66,252.43 L450.16,252.69 L449.66,252.94 L449.15,253.20 L448.65,253.45 L448.15,253.71 L447.64,253.96 L447.14,254.22 L446.64,254.48 L446.13,254.74 L445.63,255.00 L445.13,255.26 L444.62,255.52 L444.12,255.78 L443.62,256.04 L443.11,256.30 L442.61,256.57 L442.11,256.83 L441.60,257.09 L441.10,257.36 L440.60,257.62 L440.09,257.89 L439.59,258.16 L439.09,258.42 L438.58,258.69 L438.08,258.96 L437.58,259.23 L437.07,259.50 L436.57,259.77 L436.07,260.05 L435.56,260.32 L435.06,260.59 L434.56,260.87 L434.05,261.14 L433.55,261.42 L433.05,261.70 L432.54,261.98 L432.04,262.26 L431.54,262.54 L431.03,262.82 L430.53,263.11 L430.03,263.39 L429.52,263.68 L429.02,263.96 L428.52,264.25 L428.01,264.54 L427.51,264.83 L427.01,265.12 L426.50,265.42 L426.00,265.71 L425.50,266.01 L424.99,266.31 L424.49,266.61 L423.99,266.91 L423.48,267.21 L422.98,267.52 L422.48,267.83 L421.97,268.13 L421.47,268.45 L420.97,268.76 L420.46,269.07 L419.96,269.39 L419.46,269.71 L418.95,270.03 L418.45,270.36 L417.95,270.69 L417.44,271.02 L416.94,271.35 L416.44,271.69 L415.93,272.03 L415.43,272.37 L414.93,272.72 L414.42,273.07 L413.92,273.42 L413.42,273.78 L412.91,274.14 L412.41,274.51 L411.91,274.88 L411.40,275.26 L410.90,275.64 L410.40,276.03 L409.89,276.42 L409.39,276.82 L408.89,277.23 L408.38,277.65 L407.88,278.07 L407.38,278.51 L406.87,278.95 L406.37,279.40 L405.87,279.87 L405.36,280.35 L404.86,280.85 L404.36,281.36 L403.85,281.89 L403.35,282.44 L402.85,283.02 L402.34,283.62 L401.84,284.27 L401.34,284.95 L400.83,285.69 L400.33,286.51 L399.83,287.43 L399.32,288.52 L398.82,289.93 L398.32,293.30 L398.32,293.30 L398.82,296.67 L399.32,298.08 L399.83,299.17 L400.33,300.09 L400.83,300.91 L401.34,301.65 L401.84,302.33 L402.34,302.98 L402.85,303.58 L403.35,304.16 L403.85,304.71 L404.36,305.24 L404.86,305.75 L405.36,306.25 L405.87,306.73 L406.37,307.20 L406.87,307.65 L407.38,308.09 L407.88,308.53 L408.38,308.95 L408.89,309.37 L409.39,309.78 L409.89,310.18 L410.40,310.57 L410.90,310.96 L411.40,311.34 L411.91,311.72 L412.41,312.09 L412.91,312.46 L413.42,312.82 L413.92,313.18 L414.42,313.53 L414.93,313.88 L415.43,314.23 L415.93,314.57 L416.44,314.91 L416.94,315.25 L417.44,315.58 L417.95,315.91 L418.45,316.24 L418.95,316.57 L419.46,316.89 L419.96,317.21 L420.46,317.53 L420.97,317.84 L421.47,318.15 L421.97,318.47 L422.48,318.77 L422.98,319.08 L423.48,319.39 L423.99,319.69 L424.49,319.99 L424.99,320.29 L425.50,320.59 L426.00,320.89 L426.50,321.18 L427.01,321.48 L427.51,321.77 L428.01,322.06 L428.52,322.35 L429.02,322.64 L429.52,322.92 L430.03,323.21 L430.53,323.49 L431.03,323.78 L431.54,324.06 L432.04,324.34 L432.54,324.62 L433.05,324.90 L433.55,325.18 L434.05,325.46 L434.56,325.73 L435.06,326.01 L435.56,326.28 L436.07,326.55 L436.57,326.83 L437.07,327.10 L437.58,327.37 L438.08,327.64 L438.58,327.91 L439.09,328.18 L439.59,328.44 L440.09,328.71 L440.60,328.98 L441.10,329.24 L441.60,329.51 L442.11,329.77 L442.61,330.03 L443.11,330.30 L443.62,330.56 L444.12,330.82 L444.62,331.08 L445.13,331.34 L445.63,331.60 L446.13,331.86 L446.64,332.12 L447.14,332.38 L447.64,332.64 L448.15,332.89 L448.65,333.15 L449.15,333.40 L449.66,333.66 L450.16,333.91 L450.66,334.17 L451.17,334.42 L451.67,334.68 L452.17,334.93 L452.68,335.18 L453.18,335.43 L453.68,335.69 L454.19,335.94 L454.69,336.19 L455.19,336.44 L455.70,336.69 L456.20,336.94 L456.70,337.19 L457.21,337.44 L457.71,337.69 L458.21,337.93 L458.72,338.18 L459.22,338.43 L459.72,338.68 L460.23,338.92 L460.73,339.17 L461.23,339.42 L461.74,339.66 L462.24,339.91 L462.74,340.15 L463.25,340.40 L463.75,340.64 L464.25,340.89 L464.76,341.13 L465.26,341.37 L465.76,341.62 L466.27,341.86 L466.77,342.10 L467.27,342.35 L467.78,342.59 L468.28,342.83 L468.78,343.07 L469.29,343.31 L469.79,343.55 L470.29,343.79 L470.80,344.04 L471.30,344.28 L471.80,344.52 L472.31,344.76 L472.81,345.00 L473.31,345.23 L473.82,345.47 L474.32,345.71 L474.82,345.95 L475.33,346.19 L475.83,346.43 L476.33,346.67 L476.84,346.90 L477.34,347.14 L477.84,347.38 L478.35,347.62 L478.85,347.85 L479.35,348.09 L479.86,348.33 L480.36,348.56 L480.86,348.80 L481.37,349.04 L481.87,349.27 L482.37,349.51 L482.88,349.74 L483.38,349.98 L483.88,350.22 L484.39,350.45 L484.89,350.69 L485.39,350.92 L485.90,351.15 L486.40,351.39" fill="none" stroke="#7a70a6" stroke-width="1.1"/>
<path d="M524.4,228 A62.9,63.3 0 0 1 524.4,354.6" fill="none" stroke="#4a5aa0" stroke-width="1"/>
<line x1="587.3" y1="291.2" x2="675.7" y2="291.2" stroke="#b9a9d2" stroke-width="1.2"/>
<path d="M335.4,224.9 H486.4 V361.2" fill="none" stroke="#9a9a9a" stroke-width="1"/>
<path d="M335.4,224.9 V361.2 H486.4" fill="none" stroke="#6a6a6a" stroke-width="1.1"/>
<line x1="385.73" y1="224.9" x2="385.73" y2="226.4" stroke="#6e6e6e" stroke-width="1"/>
<line x1="385.73" y1="361.2" x2="385.73" y2="359.7" stroke="#6e6e6e" stroke-width="1"/>
<line x1="436.07" y1="224.9" x2="436.07" y2="226.4" stroke="#6e6e6e" stroke-width="1"/>
<line x1="436.07" y1="361.2" x2="436.07" y2="359.7" stroke="#6e6e6e" stroke-width="1"/>
<line x1="335.4" y1="293.3" x2="336.9" y2="293.3" stroke="#6e6e6e" stroke-width="1"/>
<line x1="486.4" y1="293.3" x2="484.9" y2="293.3" stroke="#6e6e6e" stroke-width="1"/>
<path d="M524.4,224.8 H675.7 V361.2" fill="none" stroke="#9a9a9a" stroke-width="1"/>
<path d="M524.4,224.8 V361.2 H675.7" fill="none" stroke="#6a6a6a" stroke-width="1.1"/>
<line x1="574.83" y1="224.8" x2="574.83" y2="226.3" stroke="#6e6e6e" stroke-width="1"/>
<line x1="574.83" y1="361.2" x2="574.83" y2="359.7" stroke="#6e6e6e" stroke-width="1"/>
<line x1="625.27" y1="224.8" x2="625.27" y2="226.3" stroke="#6e6e6e" stroke-width="1"/>
<line x1="625.27" y1="361.2" x2="625.27" y2="359.7" stroke="#6e6e6e" stroke-width="1"/>
<line x1="524.4" y1="228.1" x2="525.9" y2="228.1" stroke="#6e6e6e" stroke-width="1"/>
<line x1="675.7" y1="228.1" x2="674.2" y2="228.1" stroke="#6e6e6e" stroke-width="1"/>
<line x1="524.4" y1="256.3" x2="525.9" y2="256.3" stroke="#6e6e6e" stroke-width="1"/>
<line x1="675.7" y1="256.3" x2="674.2" y2="256.3" stroke="#6e6e6e" stroke-width="1"/>
<line x1="524.4" y1="284.5" x2="525.9" y2="284.5" stroke="#6e6e6e" stroke-width="1"/>
<line x1="675.7" y1="284.5" x2="674.2" y2="284.5" stroke="#6e6e6e" stroke-width="1"/>
<line x1="524.4" y1="312.6" x2="525.9" y2="312.6" stroke="#6e6e6e" stroke-width="1"/>
<line x1="675.7" y1="312.6" x2="674.2" y2="312.6" stroke="#6e6e6e" stroke-width="1"/>
<line x1="524.4" y1="340.8" x2="525.9" y2="340.8" stroke="#6e6e6e" stroke-width="1"/>
<line x1="675.7" y1="340.8" x2="674.2" y2="340.8" stroke="#6e6e6e" stroke-width="1"/>
<text transform="matrix(0.9920 0 0 1.0117 2.69 33.42)" font-family='"Liberation Serif", "DejaVu Serif", serif' font-size="21" fill="#1c1c1c">(a)</text>
<text transform="matrix(0.9598 0 0 1.0000 1.51 65.84)" font-family='"Liberation Serif", "DejaVu Serif", serif' font-size="19" fill="#1c1c1c" stroke="#1c1c1c" stroke-width="0.05">Ω<tspan font-family='"DejaVu Serif", "Liberation Serif", serif' font-size="15.5" baseline-shift="-5">d</tspan>, <tspan font-family='"DejaVu Serif", "Liberation Serif", serif' font-style="italic">ω</tspan><tspan font-family='"DejaVu Serif", "Liberation Serif", serif' font-size="15.5" baseline-shift="-5" font-style="italic">d</tspan></text>
<text transform="matrix(0.8726 0 0 0.8865 0.33 106.22)" font-family='"Liberation Serif", "DejaVu Serif", serif' font-size="20" fill="#1c1c1c" stroke="#1c1c1c" stroke-width="0.05"><tspan font-family='"DejaVu Serif", "Liberation Serif", serif' font-style="italic">ε</tspan><tspan font-family='"DejaVu Serif", "Liberation Serif", serif' font-size="15" baseline-shift="-4" font-style="italic">p</tspan>, <tspan font-family='"DejaVu Serif", "Liberation Serif", serif' font-style="italic">ω</tspan><tspan font-family='"DejaVu Serif", "Liberation Serif", serif' font-size="15" baseline-shift="-4" font-style="italic">p</tspan></text>
<text transform="matrix(0.9140 0 0 0.8855 5.36 140.93)" font-family='"Liberation Serif", "DejaVu Serif", serif' font-size="20" fill="#1c1c1c" stroke="#1c1c1c" stroke-width="0.05"><tspan font-family='"DejaVu Serif", "Liberation Serif", serif' font-style="italic">ε</tspan><tspan font-family='"DejaVu Serif", "Liberation Serif", serif' font-size="15.5" baseline-shift="-4.5" font-style="italic">out</tspan></text>
<text transform="matrix(0.9437 0 0 1.0200 165.93 56.80)" font-family='"Liberation Serif", "DejaVu Serif", serif' font-size="20" fill="#1c1c1c" stroke="#1c1c1c" stroke-width="0.05"><tspan font-family='"DejaVu Serif", "Liberation Serif", serif' font-style="italic">â</tspan><tspan font-family='"DejaVu Serif", "Liberation Serif", serif' font-size="14" baseline-shift="-3">1</tspan></text>
<text transform="matrix(0.9020 0 0 0.9542 498.57 58.48)" font-family='"Liberation Serif", "DejaVu Serif", serif' font-size="20" fill="#1c1c1c" stroke="#1c1c1c" stroke-width="0.05"><tspan font-family='"DejaVu Serif", "Liberation Serif", serif' font-style="italic">â</tspan><tspan font-family='"DejaVu Serif", "Liberation Serif", serif' font-size="14" baseline-shift="-3">2</tspan></text>
<text transform="matrix(1.0636 0 0 0.9387 142.63 178.38)" font-family='"Liberation Serif", "DejaVu Serif", serif' font-size="20" fill="#1c1c1c" stroke="#1c1c1c" stroke-width="0.05"><tspan font-family='"DejaVu Serif", "Liberation Serif", serif' font-style="italic">γ</tspan></text>
<text transform="matrix(0.9594 0 0 0.9040 177.22 163.72)" font-family='"Liberation Serif", "DejaVu Serif", serif' font-size="19" fill="#1c1c1c" stroke="#1c1c1c" stroke-width="0.05"><tspan font-family='"DejaVu Serif", "Liberation Serif", serif' font-style="italic">ω</tspan><tspan font-family='"DejaVu Serif", "Liberation Serif", serif' font-size="15.5" baseline-shift="-4.5" font-style="italic">m</tspan></text>
<text transform="matrix(1.0204 0 0 0.9619 266.62 169.97)" font-family='"Liberation Serif", "DejaVu Serif", serif' font-size="19" fill="#1c1c1c" stroke="#1c1c1c" stroke-width="0.05"><tspan font-family='"DejaVu Serif", "Liberation Serif", serif' font-style="italic">γ</tspan><tspan font-family='"DejaVu Serif", "Liberation Serif", serif' font-size="14" baseline-shift="-3" font-style="italic">m</tspan></text>
<text transform="matrix(0.9851 0 0 1.2169 377.34 83.53)" font-family='"Liberation Serif", "DejaVu Serif", serif' font-size="22" fill="#1c1c1c"><tspan font-style="italic">J</tspan></text>
<text transform="matrix(1.0952 0 0 0.9919 661.18 172.63)" font-family='"Liberation Serif", "DejaVu Serif", serif' font-size="20" fill="#1c1c1c" stroke="#1c1c1c" stroke-width="0.16"><tspan font-style="italic">κ</tspan></text>
<text transform="matrix(0.9963 0 0 0.9674 2.29 206.22)" font-family='"Liberation Serif", "DejaVu Serif", serif' font-size="21" fill="#1c1c1c">(b)</text>
<text transform="matrix(0.9847 0 0 1.0158 165.80 206.57)" font-family='"Liberation Serif", "DejaVu Serif", serif' font-size="20.5" fill="#1c1c1c">Passive OMS</text>
<text transform="matrix(1.0655 0 0 1.1487 11.65 234.83)" font-family='"Liberation Serif", "DejaVu Serif", serif' font-size="17" fill="#1c1c1c" stroke="#1c1c1c" stroke-width="0.05">|<tspan font-family='"DejaVu Serif", "Liberation Serif", serif' font-style="italic">m</tspan><tspan font-family='"DejaVu Serif", "Liberation Serif", serif'> + 1, </tspan><tspan font-family='"DejaVu Serif", "Liberation Serif", serif' font-style="italic">n</tspan>⟩</text>
<text transform="matrix(0.9625 0 0 0.9728 8.51 275.03)" font-family='"Liberation Serif", "DejaVu Serif", serif' font-size="20" fill="#1c1c1c">Probing, <tspan font-family='"DejaVu Serif", "Liberation Serif", serif' font-style="italic">ω</tspan><tspan font-family='"DejaVu Serif", "Liberation Serif", serif' font-size="14" baseline-shift="-2.3" font-style="italic">p</tspan></text>
<text transform="matrix(0.9975 0 0 0.9605 196.06 268.01)" font-family='"Liberation Serif", "DejaVu Serif", serif' font-size="20" fill="#1c1c1c">Driving, <tspan font-family='"DejaVu Serif", "Liberation Serif", serif' font-style="italic">ω</tspan><tspan font-family='"DejaVu Serif", "Liberation Serif", serif' font-size="14" baseline-shift="-4" font-style="italic">d</tspan></text>
<text transform="matrix(1.0500 0 0 1.0902 219.12 318.13)" font-family='"Liberation Serif", "DejaVu Serif", serif' font-size="17" fill="#1c1c1c" stroke="#1c1c1c" stroke-width="0.05">|<tspan font-family='"DejaVu Serif", "Liberation Serif", serif' font-style="italic">m</tspan><tspan font-family='"DejaVu Serif", "Liberation Serif", serif'>, </tspan><tspan font-family='"DejaVu Serif", "Liberation Serif", serif' font-style="italic">n</tspan><tspan font-family='"DejaVu Serif", "Liberation Serif", serif'> + 1</tspan>⟩</text>
<text transform="matrix(1.1063 0 0 1.1453 6.92 375.00)" font-family='"Liberation Serif", "DejaVu Serif", serif' font-size="17" fill="#1c1c1c" stroke="#1c1c1c" stroke-width="0.05">|<tspan font-family='"DejaVu Serif", "Liberation Serif", serif' font-style="italic">m</tspan><tspan font-family='"DejaVu Serif", "Liberation Serif", serif'>, </tspan><tspan font-family='"DejaVu Serif", "Liberation Serif", serif' font-style="italic">n</tspan>⟩</text>
<text transform="matrix(0.9164 0 0 1.1455 122.08 370.43)" font-family='"Liberation Serif", "DejaVu Serif", serif' font-size="19" fill="#1c1c1c" stroke="#1c1c1c" stroke-width="0.05"><tspan font-family='"DejaVu Serif", "Liberation Serif", serif' font-style="italic">ω</tspan><tspan font-family='"DejaVu Serif", "Liberation Serif", serif' font-size="14" baseline-shift="-2">c</tspan></text>
<text transform="matrix(0.9831 0 0 1.0007 234.10 367.47)" font-family='"Liberation Serif", "DejaVu Serif", serif' font-size="19" fill="#1c1c1c" stroke="#1c1c1c" stroke-width="0.05"><tspan font-family='"DejaVu Serif", "Liberation Serif", serif' font-style="italic">ω</tspan><tspan font-family='"DejaVu Serif", "Liberation Serif", serif' font-size="14" baseline-shift="-2" font-style="italic">m</tspan></text>
<text transform="matrix(0.9954 0 0 1.0198 323.93 206.28)" font-family='"Liberation Serif", "DejaVu Serif", serif' font-size="21" fill="#1c1c1c">(c)</text>
<text transform="matrix(0.9770 0 0 0.9531 502.84 205.69)" font-family='"Liberation Serif", "DejaVu Serif", serif' font-size="20.5" fill="#1c1c1c">Active cavity</text>
<text transform="matrix(0.9707 0 0 1.0048 317.55 229.77)" font-family='"Liberation Serif", "DejaVu Serif", serif' font-size="13.5" fill="#1c1c1c" stroke="#1c1c1c" stroke-width="0.22">1.1</text>
<text transform="matrix(1.0289 0 0 1.0119 316.87 299.65)" font-family='"Liberation Serif", "DejaVu Serif", serif' font-size="13.5" fill="#1c1c1c" stroke="#1c1c1c" stroke-width="0.22">1.0</text>
<text transform="matrix(1.0205 0 0 1.0012 317.09 366.88)" font-family='"Liberation Serif", "DejaVu Serif", serif' font-size="13.5" fill="#1c1c1c" stroke="#1c1c1c" stroke-width="0.22">0.9</text>
<text transform="matrix(1.0465 0 0 0.9874 331.48 374.29)" font-family='"Liberation Serif", "DejaVu Serif", serif' font-size="13.5" fill="#1c1c1c" stroke="#1c1c1c" stroke-width="0.22">0</text>
<text transform="matrix(0.9991 0 0 0.9294 376.62 375.08)" font-family='"Liberation Serif", "DejaVu Serif", serif' font-size="13.5" fill="#1c1c1c" stroke="#1c1c1c" stroke-width="0.22">0.2</text>
<text transform="matrix(0.9640 0 0 0.9269 427.28 373.99)" font-family='"Liberation Serif", "DejaVu Serif", serif' font-size="13.5" fill="#1c1c1c" stroke="#1c1c1c" stroke-width="0.22">0.4</text>
<text transform="matrix(0.9756 0 0 0.9231 477.98 374.39)" font-family='"Liberation Serif", "DejaVu Serif", serif' font-size="13.5" fill="#1c1c1c" stroke="#1c1c1c" stroke-width="0.22">0.6</text>
<text transform="matrix(1.0337 0 0 0.9568 520.86 374.56)" font-family='"Liberation Serif", "DejaVu Serif", serif' font-size="13.5" fill="#1c1c1c" stroke="#1c1c1c" stroke-width="0.22">0</text>
<text transform="matrix(1.0403 0 0 0.9233 566.09 374.85)" font-family='"Liberation Serif", "DejaVu Serif", serif' font-size="13.5" fill="#1c1c1c" stroke="#1c1c1c" stroke-width="0.22">0.2</text>
<text transform="matrix(0.9795 0 0 0.9302 615.95 374.27)" font-family='"Liberation Serif", "DejaVu Serif", serif' font-size="13.5" fill="#1c1c1c" stroke="#1c1c1c" stroke-width="0.22">0.4</text>
<text transform="matrix(0.9789 0 0 0.9433 667.71 374.21)" font-family='"Liberation Serif", "DejaVu Serif", serif' font-size="13.5" fill="#1c1c1c" stroke="#1c1c1c" stroke-width="0.22">0.6</text>
<text transform="matrix(0.9791 0 0 0.9728 506.20 232.34)" font-family='"Liberation Serif", "DejaVu Serif", serif' font-size="13.5" fill="#1c1c1c" stroke="#1c1c1c" stroke-width="0.22">0.4</text>
<text transform="matrix(1.0006 0 0 0.9982 506.13 260.73)" font-family='"Liberation Serif", "DejaVu Serif", serif' font-size="13.5" fill="#1c1c1c" stroke="#1c1c1c" stroke-width="0.22">0.2</text>
<text transform="matrix(1.0436 0 0 0.9913 516.32 289.16)" font-family='"Liberation Serif", "DejaVu Serif", serif' font-size="13.5" fill="#1c1c1c" stroke="#1c1c1c" stroke-width="0.22">0</text>
<text transform="matrix(0.9898 0 0 0.9411 502.11 316.96)" font-family='"Liberation Serif", "DejaVu Serif", serif' font-size="13.5" fill="#1c1c1c" stroke="#1c1c1c" stroke-width="0.22"><tspan stroke="#1c1c1c" stroke-width="0.7">-</tspan>0.2</text>
<text transform="matrix(1.0032 0 0 0.8823 502.10 345.48)" font-family='"Liberation Serif", "DejaVu Serif", serif' font-size="13.5" fill="#1c1c1c" stroke="#1c1c1c" stroke-width="0.22"><tspan stroke="#1c1c1c" stroke-width="0.7">-</tspan>0.4</text>
<text transform="matrix(1.1141 0 0 1.0081 382.53 386.93)" font-family='"Liberation Serif", "DejaVu Serif", serif' font-size="15" fill="#1c1c1c"><tspan font-style="italic">J</tspan>/(<tspan font-style="italic">κ</tspan> + <tspan font-style="italic">γ</tspan>)</text>
<text transform="matrix(1.1656 0 0 1.0369 571.26 386.44)" font-family='"Liberation Serif", "DejaVu Serif", serif' font-size="15" fill="#1c1c1c"><tspan font-style="italic">J</tspan>/(<tspan font-style="italic">κ</tspan> + <tspan font-style="italic">γ</tspan>)</text>
<text transform="matrix(0.8544 0 0 0.9516 348.11 284.80)" font-family='"Liberation Serif", "DejaVu Serif", serif' font-size="14" fill="#1c1c1c" stroke="#1c1c1c" stroke-width="0.1"><tspan font-family='"DejaVu Math TeX Gyre", "Liberation Serif", serif' letter-spacing="-2" stroke="#1c1c1c" stroke-width="0.45">𝒫𝒯</tspan><tspan font-size="15">-BP</tspan></text>
<text transform="matrix(0.8414 0 0 0.9453 425.93 284.56)" font-family='"Liberation Serif", "DejaVu Serif", serif' font-size="14" fill="#1c1c1c" stroke="#1c1c1c" stroke-width="0.1"><tspan font-family='"DejaVu Math TeX Gyre", "Liberation Serif", serif' letter-spacing="-2" stroke="#1c1c1c" stroke-width="0.45">𝒫𝒯</tspan><tspan font-size="15">-SP</tspan></text>
<text transform="matrix(0.8254 0 0 0.8635 534.62 282.88)" font-family='"Liberation Serif", "DejaVu Serif", serif' font-size="14" fill="#1c1c1c" stroke="#1c1c1c" stroke-width="0.1"><tspan font-family='"DejaVu Math TeX Gyre", "Liberation Serif", serif' letter-spacing="-2" stroke="#1c1c1c" stroke-width="0.45">𝒫𝒯</tspan><tspan font-size="15">-BP</tspan></text>
<text transform="matrix(0.8726 0 0 0.8546 614.41 282.10)" font-family='"Liberation Serif", "DejaVu Serif", serif' font-size="14" fill="#1c1c1c" stroke="#1c1c1c" stroke-width="0.1"><tspan font-family='"DejaVu Math TeX Gyre", "Liberation Serif", serif' letter-spacing="-2" stroke="#1c1c1c" stroke-width="0.45">𝒫𝒯</tspan><tspan font-size="15">-SP</tspan></text>
<text transform="matrix(0 -1.0806 0.9520 0 312.59 312.76)" font-family='"Liberation Serif", "DejaVu Serif", serif' font-size="12.5" fill="#1c1c1c"><tspan font-style="italic">ω</tspan><tspan font-size="10" baseline-shift="-2" stroke="#1c1c1c" stroke-width="0.35">+</tspan>, <tspan font-style="italic">ω</tspan><tspan font-size="10" baseline-shift="-2" stroke="#1c1c1c" stroke-width="0.35">−</tspan></text>
<text transform="matrix(0 -1.2326 0.9456 0 497.43 311.05)" font-family='"Liberation Serif", "DejaVu Serif", serif' font-size="13.5" fill="#1c1c1c"><tspan font-style="italic">γ</tspan><tspan font-size="10" baseline-shift="-2" stroke="#1c1c1c" stroke-width="0.35">+</tspan>, <tspan font-style="italic">γ</tspan><tspan font-size="10" baseline-shift="-2" stroke="#1c1c1c" stroke-width="0.35">−</tspan></text>
</svg>
</body></html>
